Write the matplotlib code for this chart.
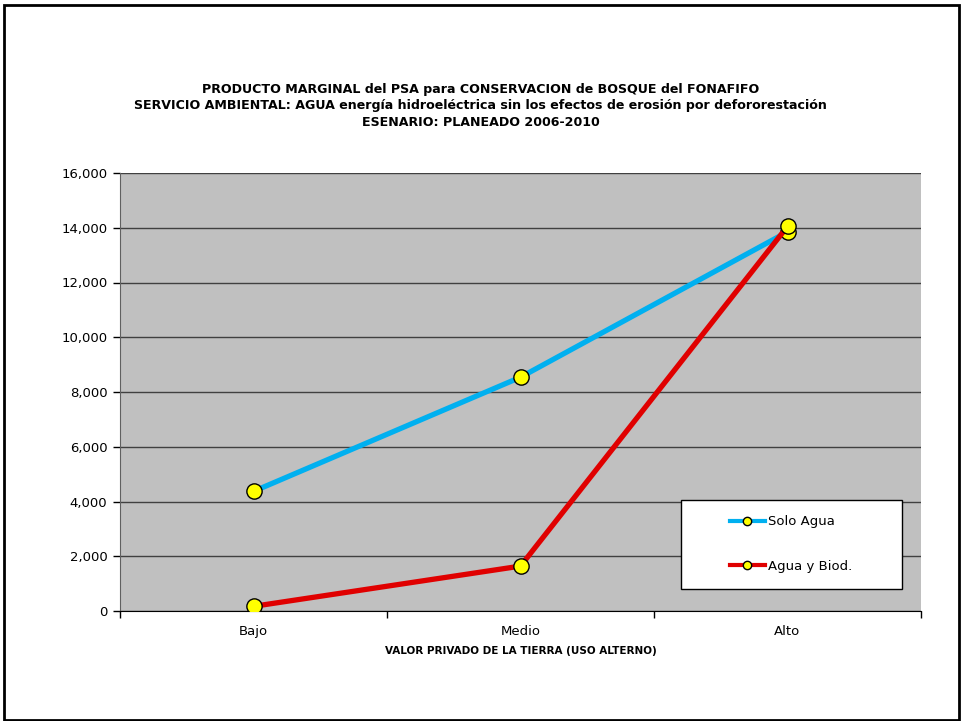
import numpy as np
import matplotlib.pyplot as plt
from matplotlib.patches import Rectangle
from matplotlib.ticker import FuncFormatter

categorias = ["Bajo", "Medio", "Alto"]
solo_agua = [4370, 8540, 13850]
agua_biod = [170, 1640, 14050]

titulo = ("PRODUCTO MARGINAL del PSA para CONSERVACION de BOSQUE del FONAFIFO\n"
          "SERVICIO AMBIENTAL: AGUA energía hidroeléctrica sin los efectos de erosión por defororestación\n"
          "ESENARIO: PLANEADO 2006-2010")

plt.rcParams["font.family"] = ["DejaVu Sans"]

fig = plt.figure(figsize=(9.61, 7.21), dpi=100)
ax = fig.add_axes([120 / 961, 1 - 611 / 721, 801 / 961, 438 / 721])

x = np.arange(len(categorias))
ax.set_facecolor("#c0c0c0")
ax.set_xlim(-0.5, 2.5)
ax.set_ylim(0, 16000)
ax.set_yticks(np.arange(0, 16001, 2000))
ax.yaxis.set_major_formatter(FuncFormatter(lambda v, p: f"{v:,.0f}"))
ax.grid(axis="y", color="#404040", linewidth=1.0)
ax.set_axisbelow(True)

ax.plot(x, solo_agua, color="#00b0f0", linewidth=3.8, marker="o", markersize=11,
        markerfacecolor="#ffff00", markeredgecolor="black", markeredgewidth=1.0,
        label="Solo Agua", zorder=3)
ax.plot(x, agua_biod, color="#e00000", linewidth=3.8, marker="o", markersize=11,
        markerfacecolor="#ffff00", markeredgecolor="black", markeredgewidth=1.0,
        label="Agua y Biod.", zorder=3)

# category ticks sit between groups, labels centered on each group
ax.set_xticks([-0.5, 0.5, 1.5, 2.5])
ax.set_xticklabels([])
ax.set_xticks(x, minor=True)
ax.set_xticklabels(categorias, minor=True, fontsize=9.5)
ax.tick_params(axis="x", which="minor", length=0, pad=10)
ax.tick_params(axis="x", which="major", length=5, direction="out", width=1)
ax.tick_params(axis="y", length=5, direction="out", width=1, labelsize=9.5, pad=4)

for s in ["top", "right"]:
    ax.spines[s].set_visible(False)
ax.spines["left"].set_color("#606060")
ax.spines["bottom"].set_color("black")

ax.set_xlabel("VALOR PRIVADO DE LA TIERRA (USO ALTERNO)", fontsize=7.5,
              fontweight="bold", labelpad=6)

fig.text(0.5, 1 - 106 / 721, titulo, ha="center", va="center", fontsize=9.1,
         fontweight="bold", linespacing=1.35)

# white legend box, entries placed inside without their own frame
ax.add_patch(Rectangle(((681 - 120) / 801, (611 - 589) / 438), 221 / 801, 89 / 438,
                       transform=ax.transAxes, facecolor="white",
                       edgecolor="black", linewidth=1.0, zorder=4))
leg = ax.legend(loc="center left", bbox_to_anchor=((730 - 120) / 801, (611 - 544) / 438),
                frameon=False, fontsize=9.5, handlelength=2.65, labelspacing=2.35,
                borderpad=0, handletextpad=0.2, borderaxespad=0)
leg.set_zorder(5)
for h in leg.legend_handles:
    h.set_markersize(6)
    h.set_linewidth(3)

fig.patches.append(Rectangle((4 / 961, 1 / 721), 955 / 961, 715 / 721,
                             transform=fig.transFigure, fill=False,
                             edgecolor="black", linewidth=2))

fig.savefig("out.png", dpi=100)
